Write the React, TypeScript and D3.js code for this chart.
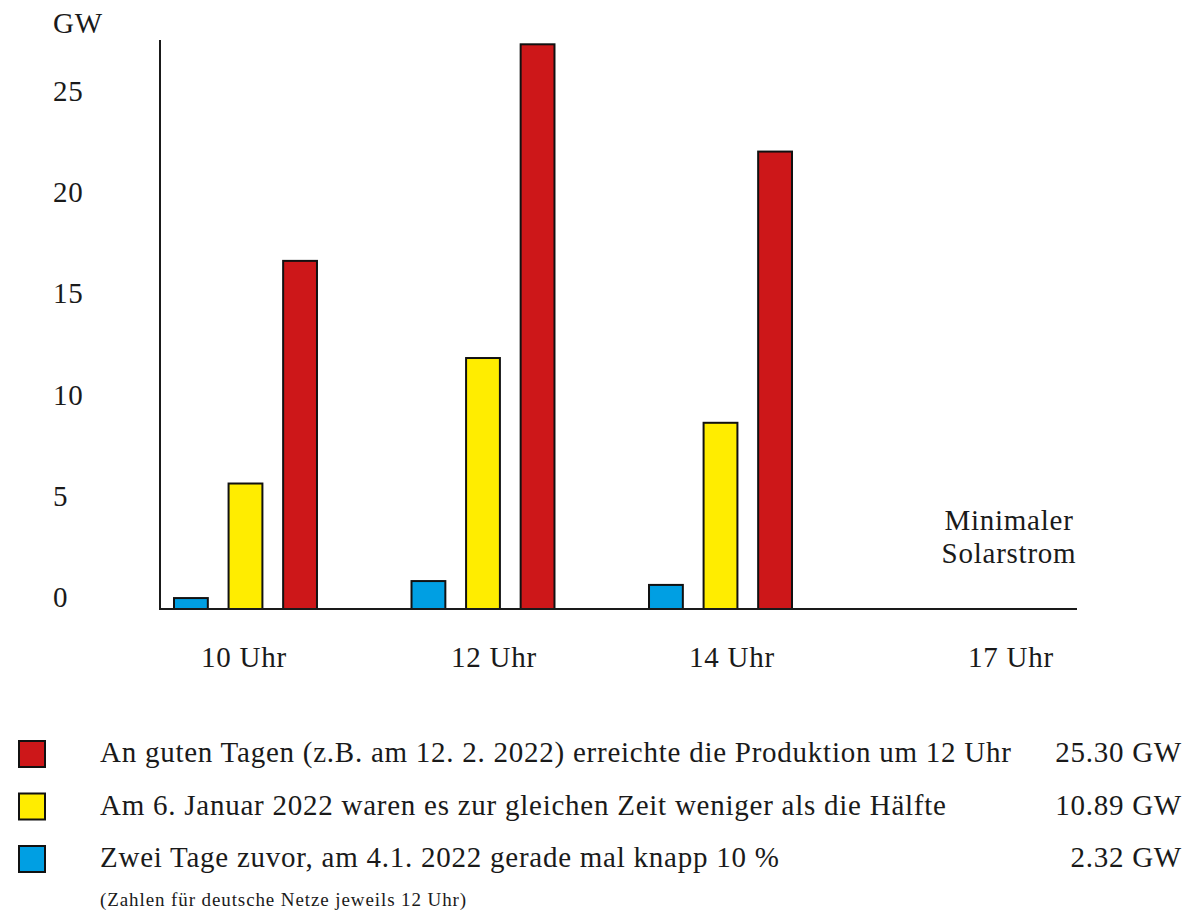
import * as d3 from "d3";

// categories / series (GW)
const hours = ["10 Uhr", "12 Uhr", "14 Uhr", "17 Uhr"];
const seriesKeys = ["jan4", "jan6", "feb12"];
const jan4Values = [0.54, 1.38, 1.19];
const jan6Values = [6.2, 12.4, 9.2];
const feb12Values = [17.2, 27.9, 22.6];
const yTicks = [0, 5, 10, 15, 20, 25];

const legendKeys = ["feb12", "jan6", "jan4"];
const legendLabels = [
  "An guten Tagen (z.B. am 12. 2. 2022) erreichte die Produktion um 12 Uhr",
  "Am 6. Januar 2022 waren es zur gleichen Zeit weniger als die Hälfte",
  "Zwei Tage zuvor, am 4.1. 2022 gerade mal knapp 10 %",
];
const legendValues = ["25.30 GW", "10.89 GW", "2.32 GW"];

const COLORS: Record<string, string> = {
  jan4: "#009fe3",
  jan6: "#ffed00",
  feb12: "#cd1719",
};

const W = 1189;
const H = 911;
const FONT = "'Liberation Serif', 'Times New Roman', serif";
const FS = 29;
const LS = 0.75; // the original face runs a bit wider than Liberation Serif
const AXIS_LEFT = 160;
const AXIS_RIGHT = 1077;
const AXIS_TOP = 40;

export default function App() {
  const seriesValues: Record<string, number[]> = {
    jan4: jan4Values,
    jan6: jan6Values,
    feb12: feb12Values,
  };

  const y = d3.scaleLinear().domain([0, 25]).range([609, 103]);

  const groupX = d3
    .scaleBand<string>()
    .domain(hours)
    .range([174, 1029.5])
    .paddingInner(0.398)
    .paddingOuter(0);

  const subX = d3
    .scaleBand<string>()
    .domain(seriesKeys)
    .range([0, groupX.bandwidth()])
    .paddingInner(0.38);

  // hour labels are not exactly under the bar groups in the original
  const labelX = d3
    .scaleLinear()
    .domain([0, 1, 2, 3])
    .range([244, 494, 732, 1011]);

  const legendY = d3
    .scalePoint<string>()
    .domain(legendKeys)
    .range([762, 867]);

  const base = y(0);

  return (
    <div style={{ position: "absolute", left: 0, top: 0 }}>
      <svg width={W} height={H} style={{ display: "block", background: "#fff" }}>
        <g fontFamily={FONT} fill="#1a1a1a" fontSize={FS} letterSpacing={LS}>
          {/* y axis labels */}
          <text x={53} y={33}>
            GW
          </text>
          {yTicks.map((t) => (
            <text key={t} x={53} y={y(t) - 2}>
              {t}
            </text>
          ))}

          {/* bars */}
          {hours.slice(0, 3).map((h, i) => (
            <g key={h} transform={`translate(${groupX(h)},0)`}>
              {seriesKeys.map((k) => {
                const v = seriesValues[k][i];
                return (
                  <rect
                    key={k}
                    x={subX(k)}
                    y={y(v)}
                    width={subX.bandwidth()}
                    height={base - y(v)}
                    fill={COLORS[k]}
                    stroke="#111"
                    strokeWidth={2}
                  />
                );
              })}
            </g>
          ))}

          {/* axes */}
          <line
            x1={AXIS_LEFT}
            x2={AXIS_LEFT}
            y1={AXIS_TOP}
            y2={base + 1}
            stroke="#1a1a1a"
            strokeWidth={2}
          />
          <line
            x1={AXIS_LEFT - 1}
            x2={AXIS_RIGHT}
            y1={base}
            y2={base}
            stroke="#1a1a1a"
            strokeWidth={2}
          />

          {/* hour labels */}
          {hours.map((h, i) => (
            <text key={h} x={labelX(i)} y={667} textAnchor="middle">
              {h}
            </text>
          ))}

          {/* annotation */}
          <text x={labelX(3) - 2} y={530} textAnchor="middle">
            Minimaler
          </text>
          <text x={labelX(3) - 2} y={563} textAnchor="middle">
            Solarstrom
          </text>

          {/* legend */}
          {legendKeys.map((k, i) => {
            const ly = legendY(k) as number;
            return (
              <g key={k}>
                <rect
                  x={19}
                  y={ly - 21}
                  width={26}
                  height={26}
                  fill={COLORS[k]}
                  stroke="#111"
                  strokeWidth={2}
                />
                <text x={100} y={ly}>
                  {legendLabels[i]}
                </text>
                <text x={1182} y={ly} textAnchor="end">
                  {legendValues[i]}
                </text>
              </g>
            );
          })}
          <text x={100} y={906} fontSize={19} letterSpacing={0.9}>
            (Zahlen für deutsche Netze jeweils 12 Uhr)
          </text>
        </g>
      </svg>
    </div>
  );
}
